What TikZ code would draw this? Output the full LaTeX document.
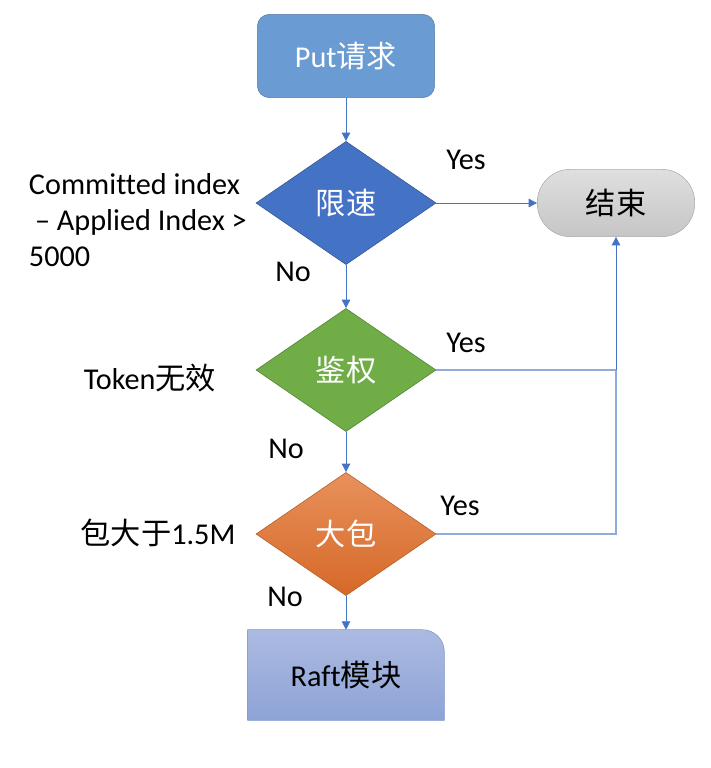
\documentclass[tikz,border=0pt]{standalone}
\usepackage{fontspec}
\setmainfont[Ligatures=CommonOff]{Carlito}
\newfontfamily\cjk{Noto Sans CJK SC}
\newcommand{\zh}[1]{{\cjk #1}}
\usepackage{tikz}
\usetikzlibrary{arrows.meta, shapes.geometric, backgrounds}

\definecolor{lineblue}{HTML}{4472C4}
\definecolor{linelight}{HTML}{8FAADC}
\definecolor{putblue}{HTML}{6A9CD3}
\definecolor{authgreen}{HTML}{70AD47}
\definecolor{bigorange}{HTML}{ED7D31}
\definecolor{bigtop}{HTML}{E8915C}
\definecolor{bigbot}{HTML}{D66828}
\definecolor{rafttop}{HTML}{ABBAE1}
\definecolor{raftbot}{HTML}{8EA3D6}
\definecolor{raftline}{HTML}{7F97D0}

\tikzset{
	flowtxt/.style={font=\fontsize{21.5}{25.5}\selectfont},
	startbox/.style={flowtxt, rectangle, rounded corners=0.3cm, minimum width=4.43cm, minimum height=2.08cm,
		fill=#1, draw=#1!80!black, text=white},
	decide/.style={flowtxt, diamond, aspect=1.46, inner sep=0pt, minimum width=4.5cm, minimum height=3.08cm,
		draw=#1!75!black, text=white},
	endbox/.style={flowtxt, rectangle, rounded corners=0.82cm, minimum width=3.93cm, minimum height=1.68cm,
		top color=gray!25, bottom color=gray!45, draw=gray!65},
	raftbox/.style={flowtxt, minimum width=4.9cm, minimum height=2.25cm},
	lbl/.style={flowtxt, text=black},
	conn/.style={-{Triangle[length=6pt, width=6pt]}, draw=lineblue, line width=0.6pt},
	side/.style={draw=linelight, line width=0.8pt}
}

\begin{document}
\begin{tikzpicture}[x=0.025cm, y=-0.025cm]
	\useasboundingbox (0,0) rectangle (710,768);

	% nodes
	\node[startbox=putblue] (put) at (346,56) {Put\zh{请求}};
	\node[decide=lineblue, fill=lineblue] (limit) at (346,203) {\zh{限速}};
	\node[decide=authgreen, fill=authgreen] (auth) at (346,370) {\zh{鉴权}};
	\node[decide=bigorange, top color=bigtop, bottom color=bigbot] (big) at (346,534) {\zh{大包}};
	\node[endbox] (stop) at (616,203) {\zh{结束}};
	\node[raftbox] (raft) at (346,675) {Raft\zh{模块}};
	\begin{scope}[on background layer]
		\shade[top color=rafttop, bottom color=raftbot, draw=raftline]
			(raft.south west) -- (raft.north west) -- ([xshift=-0.55cm]raft.north east)
			arc (90:0:0.55cm) -- (raft.south east) -- cycle;
	\end{scope}

	% labels
	\node[lbl, anchor=west, align=left] (cond1) at (24,220) {Committed index\\\hspace*{0.2em}– Applied Index >\\5000};
	\node[lbl] (yes1) at (466,160) {Yes};
	\node[lbl] (no1) at (293,272) {No};
	\node[lbl] (cond2) at (150,378) {Token\zh{无效}};
	\node[lbl] (yes2) at (466,343) {Yes};
	\node[lbl] (no2) at (286,449) {No};
	\node[lbl] (cond3) at (158,533) {\zh{包大于}1.5M};
	\node[lbl] (yes3) at (460,506) {Yes};
	\node[lbl] (no3) at (285,597) {No};

	% connectors
	\draw[conn] (put) -- (limit);
	\draw[conn] (limit) -- (stop);
	\draw[conn] (limit) -- (auth);
	\draw[conn] (auth) -- (big);
	\draw[conn] (big) -- (raft);
	\coordinate (join) at (stop.south |- auth.east);
	\draw[side] (big.east) -| (join);
	\draw[side] (auth.east) -- (join);
	\draw[conn] (join) -- (stop.south);
\end{tikzpicture}
\end{document}
